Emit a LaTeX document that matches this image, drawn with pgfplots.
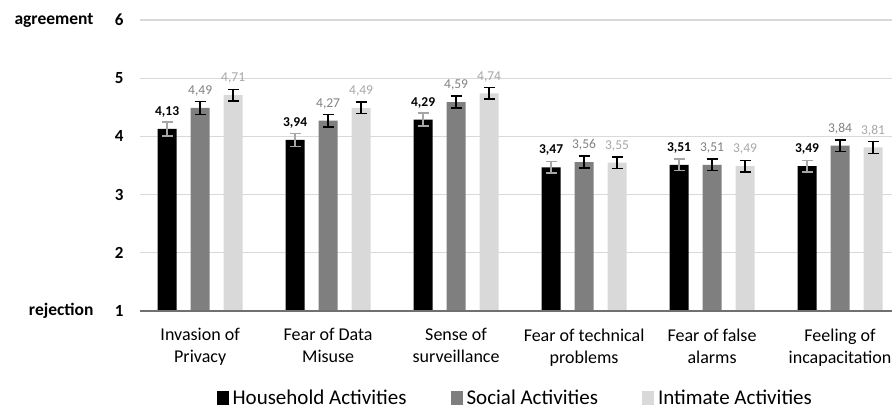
\documentclass[border=0pt]{standalone}
\usepackage{pgfplots}
\pgfplotsset{compat=1.18}
\usepackage{pgfplotstable}
\usepackage{fontspec}
\setmainfont{Carlito}
\definecolor{socialc}{HTML}{7F7F7F}
\definecolor{intimc}{HTML}{D9D9D9}
\definecolor{socialt}{HTML}{808080}
\definecolor{intimt}{HTML}{A6A6A6}
\definecolor{gridc}{HTML}{D9D9D9}
\definecolor{basec}{HTML}{707070}
\pgfplotstableread{
x y e
0 4.13 0.12
1 3.94 0.11
2 4.29 0.11
3 3.47 0.10
4 3.51 0.10
5 3.49 0.10
}\household
\pgfplotstableread{
x y e
0 4.49 0.11
1 4.27 0.11
2 4.59 0.10
3 3.56 0.10
4 3.51 0.10
5 3.84 0.10
}\social
\pgfplotstableread{
x y e
0 4.71 0.10
1 4.49 0.10
2 4.74 0.10
3 3.55 0.10
4 3.49 0.10
5 3.81 0.10
}\intimate
\begin{document}
\begin{tikzpicture}
\begin{axis}[
  scale only axis, width=752pt, height=291pt,
  xmin=-0.47, xmax=5.406, ymin=1, ymax=6,
  clip=false,
  /pgf/number format/assume math mode=true,
  ybar=14pt, bar width=19pt,
  axis line style={draw=none},
  major tick length=0pt,
  ytick={1,2,3,4,5,6},
  ymajorgrids, grid style={gridc, line width=1.2pt},
  yticklabel style={font=\bfseries\fontsize{17}{17}\selectfont, xshift=-13pt},
  xtick=data,
  xticklabels={{Invasion of\\Privacy},{Fear of Data\\Misuse},{Sense of\\surveillance},{Fear of technical\\problems},{Fear of false\\alarms},{Feeling of\\incapacitation}},
  xticklabel style={align=center, font=\fontsize{18}{22}\selectfont, yshift=-14pt},
  nodes near coords={\pgfmathprintnumber[use comma,fixed,precision=2,fixed zerofill,assume math mode=true]{\pgfplotspointmeta}},
  nodes near coords align={anchor=south, yshift=8pt},
  legend style={at={(0.499,-0.299)}, anchor=center, draw=none, legend columns=3,
    font=\fontsize{21}{21}\selectfont, column sep=2pt,
    /tikz/every even column/.append style={column sep=42pt}},
  legend image code/.code={\fill[#1] (0pt,-7pt) rectangle (12pt,7pt);},
]
\addplot[fill=black, draw=none,
  nodes near coords style={font=\bfseries\fontsize{13.5}{13.5}\selectfont, text=black},
  error bars/.cd, y dir=both, y explicit,
  error bar style={intimt, line width=1.5pt},
  error mark options={intimt, line width=1.5pt, mark size=5.5pt, rotate=90}]
  table[x=x, y=y, y error=e] {\household};
\addplot[fill=socialc, draw=none,
  nodes near coords style={font=\fontsize{13.5}{13.5}\selectfont, text=socialt},
  error bars/.cd, y dir=both, y explicit,
  error bar style={black, line width=1.5pt},
  error mark options={black, line width=1.5pt, mark size=5.5pt, rotate=90}]
  table[x=x, y=y, y error=e] {\social};
\addplot[fill=intimc, draw=none,
  nodes near coords style={font=\fontsize{13.5}{13.5}\selectfont, text=intimt},
  error bars/.cd, y dir=both, y explicit,
  error bar style={black, line width=1.5pt},
  error mark options={black, line width=1.5pt, mark size=5.5pt, rotate=90}]
  table[x=x, y=y, y error=e] {\intimate};
\legend{Household Activities, Social Activities, Intimate Activities}
\draw[basec, line width=2pt] (rel axis cs:0,0) -- (rel axis cs:1,0);
\coordinate (BL) at (rel axis cs:0,0);
\node[anchor=east, font=\bfseries\fontsize{17.5}{17.5}\selectfont] at ([xshift=-43pt]rel axis cs:0,1) {agreement};
\node[anchor=east, font=\bfseries\fontsize{17.5}{17.5}\selectfont] at ([xshift=-43pt]rel axis cs:0,0) {rejection};
\end{axis}
\pgfresetboundingbox
\path[use as bounding box] ([shift={(-140pt,-99pt)}]BL) rectangle ++(892pt,410pt);
\end{tikzpicture}
\end{document}
